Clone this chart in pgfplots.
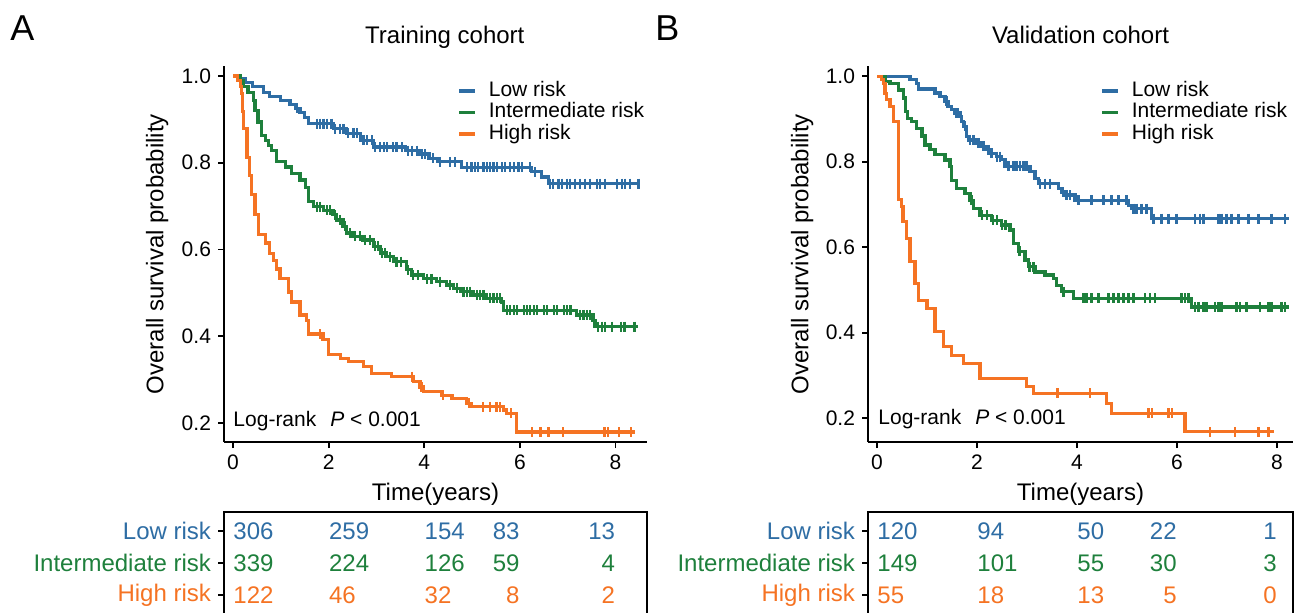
\documentclass[border=0pt]{standalone}
\usepackage{fontspec}
\setmainfont{Liberation Sans}
\usepackage{pgfplots}
\pgfplotsset{compat=1.18}
\definecolor{kmblue}{RGB}{46,109,164}
\definecolor{kmgreen}{RGB}{30,128,60}
\definecolor{kmorange}{RGB}{245,115,35}
\newcommand{\ticksize}{\fontsize{10.5}{12.5}\selectfont}
\newcommand{\labsize}{\fontsize{12}{14}\selectfont}
\newcommand{\tabsize}{\fontsize{12}{14}\selectfont}
\newcommand{\letsize}{\fontsize{18}{21}\selectfont}

\pgfplotsset{
  km/.style={scale only axis, height=188pt,
    axis x line=bottom, axis y line=left,
    axis line style={line width=1.1pt,-},
    tick align=outside, major tick length=3pt,
    tick style={black,line width=0.9pt},
    xtick={0,2,4,6,8}, ytick={0.2,0.4,0.6,0.8,1.0},
    yticklabels={0.2,0.4,0.6,0.8,1.0},
    tick label style={font=\ticksize},
    /pgf/number format/assume math mode=true,
    xlabel={Time(years)}, ylabel={Overall survival probability},
    label style={font=\labsize},
    title style={font=\labsize, anchor=base},
    legend cell align=left,
    legend image code/.code={\draw[##1, line width=1.7pt] (0pt,0pt) -- (8pt,0pt);},
    legend style={draw=none, fill=none, inner sep=0pt, anchor=north west,
      font=\ticksize, row sep=1.25pt,
      nodes={inner sep=0pt, text height=7.5pt, text depth=2pt},
      /tikz/every odd column/.append style={column sep=6pt}},
  },
  kmcurve/.style={const plot, line width=1.6pt, mark=none},
  cens/.style={only marks, mark=|, mark size=2.5pt, mark options={line width=1.1pt}, forget plot},
  risk/.style={scale only axis, height=54.24pt, ymin=0.2, ymax=3.59,
    xtick=\empty, ytick={1,2,3}, ytick pos=left,
    tick align=outside, major tick length=3pt,
    tick style={black,line width=0.9pt},
    axis line style={line width=1.1pt},
    yticklabel style={font=\tabsize},
    yticklabels={{\textcolor{kmorange}{High risk}},{\textcolor{kmgreen}{Intermediate risk}},{\textcolor{kmblue}{Low risk}}},
  },
  rnum/.style={draw=none, mark=none, nodes near coords, point meta=explicit symbolic,
    visualization depends on={value \thisrow{a} \as \anc},
    every node near coord/.append style={anchor=\anc, inner sep=0pt, font=\tabsize, text=#1}},
}

\begin{document}
\begin{tikzpicture}

% ---------------- Panel A ----------------
\begin{axis}[km, at={(112pt,85pt)}, anchor=south west, width=211.5pt,
  xmin=-0.19, xmax=8.66, ymin=0.156, ymax=1.023,
  title={Training cohort}, title style={at={(rel axis cs:0.522,1.028)}},
  xlabel style={at={(rel axis cs:0.5,-0.138)}, anchor=center},
  ylabel style={at={(rel axis cs:-0.158,0.5)}, anchor=center},
  legend style={at={(rel axis cs:0.551,0.960)}}]
\addplot[kmcurve, kmblue] table {
x y
0 1.0
0.10 0.993
0.25 0.985
0.40 0.975
0.63 0.961
0.77 0.953
1.00 0.944
1.19 0.934
1.30 0.925
1.40 0.915
1.50 0.905
1.57 0.890
2.10 0.878
2.38 0.868
2.66 0.852
2.93 0.836
3.60 0.828
3.90 0.820
4.10 0.810
4.27 0.802
4.78 0.789
6.25 0.779
6.45 0.767
6.60 0.752
8.50 0.752
};
\addplot[kmcurve, kmgreen] table {
x y
0 1.0
0.15 0.990
0.22 0.975
0.31 0.961
0.42 0.943
0.46 0.920
0.52 0.894
0.60 0.863
0.67 0.852
0.74 0.840
0.81 0.829
0.91 0.802
1.09 0.790
1.23 0.776
1.40 0.760
1.51 0.742
1.57 0.710
1.68 0.699
1.90 0.690
2.09 0.680
2.17 0.668
2.30 0.653
2.38 0.638
2.51 0.630
2.72 0.622
2.93 0.607
3.08 0.592
3.20 0.583
3.35 0.572
3.63 0.553
3.74 0.541
3.98 0.533
4.26 0.526
4.47 0.518
4.61 0.510
4.75 0.503
5.02 0.495
5.31 0.487
5.62 0.479
5.66 0.460
7.19 0.449
7.53 0.437
7.57 0.422
8.47 0.422
};
\addplot[kmcurve, kmorange] table {
x y
0 1.0
0.10 0.990
0.15 0.975
0.18 0.959
0.20 0.918
0.22 0.878
0.29 0.812
0.34 0.770
0.39 0.727
0.46 0.681
0.53 0.635
0.67 0.615
0.77 0.590
0.84 0.575
0.91 0.555
0.98 0.533
1.16 0.502
1.23 0.479
1.40 0.449
1.54 0.437
1.58 0.405
1.88 0.392
1.99 0.357
2.24 0.349
2.41 0.342
2.73 0.330
2.90 0.314
3.32 0.307
3.77 0.295
3.91 0.283
3.98 0.272
4.37 0.264
4.58 0.257
4.89 0.245
4.99 0.237
5.65 0.230
5.72 0.222
5.93 0.179
8.41 0.179
};
\addplot[cens, kmblue] table {
x y
1.33 0.925
1.75 0.890
1.82 0.890
1.89 0.890
1.96 0.890
2.06 0.890
2.13 0.878
2.24 0.878
2.31 0.878
2.41 0.868
2.52 0.868
2.59 0.868
2.73 0.852
2.80 0.852
2.90 0.852
2.97 0.836
3.08 0.836
3.15 0.836
3.22 0.836
3.35 0.836
3.42 0.836
3.53 0.836
3.66 0.828
3.74 0.828
3.84 0.828
3.95 0.820
4.02 0.820
4.19 0.810
4.33 0.802
4.54 0.802
4.64 0.802
4.89 0.789
4.99 0.789
5.06 0.789
5.13 0.789
5.24 0.789
5.31 0.789
5.38 0.789
5.45 0.789
5.52 0.789
5.62 0.789
5.69 0.789
5.80 0.789
5.87 0.789
5.97 0.789
6.04 0.789
6.21 0.789
6.32 0.779
6.63 0.752
6.70 0.752
6.81 0.752
6.88 0.752
6.98 0.752
7.05 0.752
7.16 0.752
7.26 0.752
7.36 0.752
7.47 0.752
7.61 0.752
7.68 0.752
7.78 0.752
8.03 0.752
8.13 0.752
8.20 0.752
8.31 0.752
8.48 0.752
};
\addplot[cens, kmgreen] table {
x y
1.75 0.699
1.82 0.699
1.96 0.690
2.03 0.690
2.13 0.680
2.24 0.668
2.34 0.653
2.45 0.638
2.55 0.630
2.66 0.630
2.76 0.622
2.87 0.622
2.97 0.607
3.04 0.607
3.11 0.592
3.18 0.592
3.28 0.583
3.42 0.572
3.52 0.572
3.66 0.553
3.77 0.541
3.87 0.541
4.05 0.533
4.15 0.533
4.33 0.526
4.54 0.518
4.68 0.510
4.82 0.503
4.89 0.503
4.96 0.503
5.10 0.495
5.17 0.495
5.24 0.495
5.38 0.487
5.45 0.487
5.52 0.487
5.59 0.487
5.73 0.460
5.80 0.460
5.87 0.460
5.94 0.460
6.08 0.460
6.15 0.460
6.22 0.460
6.29 0.460
6.36 0.460
6.50 0.460
6.57 0.460
6.71 0.460
6.78 0.460
6.92 0.460
6.99 0.460
7.06 0.460
7.26 0.449
7.33 0.449
7.40 0.449
7.47 0.449
7.64 0.422
7.71 0.422
7.78 0.422
7.92 0.422
8.12 0.422
8.19 0.422
8.40 0.422
};
\addplot[cens, kmorange] table {
x y
1.82 0.405
3.74 0.307
3.94 0.283
4.40 0.264
4.93 0.245
5.23 0.237
5.37 0.237
5.51 0.237
5.58 0.237
5.82 0.222
6.26 0.179
6.43 0.179
6.60 0.179
6.90 0.179
7.77 0.179
7.84 0.179
8.08 0.179
8.33 0.179
};
\legend{Low risk, Intermediate risk, High risk}
\node[anchor=west, inner sep=0pt, font=\ticksize] at (axis cs:0,0.205) {Log-rank\hspace{7pt}\textit{P} < 0.001};
\end{axis}

\begin{axis}[risk, at={(112pt,50pt)}, anchor=north west, width=211.5pt,
  xmin=-0.19, xmax=8.66]
\addplot[rnum=kmblue] table[meta=l] {
x y l a
0 3 306 west
2 3 259 west
4 3 154 west
6 3 83 east
8 3 13 east
};
\addplot[rnum=kmgreen] table[meta=l] {
x y l a
0 2 339 west
2 2 224 west
4 2 126 west
6 2 59 east
8 2 4 east
};
\addplot[rnum=kmorange] table[meta=l] {
x y l a
0 1 122 west
2 1 46 west
4 1 32 west
6 1 8 east
8 1 2 east
};
\end{axis}

% ---------------- Panel B ----------------
\begin{axis}[km, at={(434pt,85pt)}, anchor=south west, width=212.5pt,
  xmin=-0.18, xmax=8.32, ymin=0.144, ymax=1.024,
  title={Validation cohort}, title style={at={(rel axis cs:0.5,1.028)}},
  xlabel style={at={(rel axis cs:0.5,-0.138)}, anchor=center},
  ylabel style={at={(rel axis cs:-0.155,0.5)}, anchor=center},
  legend style={at={(rel axis cs:0.546,0.960)}}]
\addplot[kmcurve, kmblue] table {
x y
0 1.0
0.66 0.992
0.79 0.984
0.83 0.970
1.16 0.961
1.26 0.953
1.36 0.941
1.42 0.930
1.49 0.922
1.56 0.914
1.66 0.906
1.69 0.894
1.73 0.883
1.79 0.859
1.83 0.851
1.96 0.844
2.06 0.836
2.16 0.828
2.26 0.820
2.39 0.812
2.49 0.805
2.56 0.789
3.06 0.777
3.16 0.761
3.23 0.749
3.63 0.737
3.69 0.729
3.76 0.722
3.96 0.710
5.03 0.698
5.09 0.690
5.49 0.667
8.23 0.667
};
\addplot[kmcurve, kmgreen] table {
x y
0 1.0
0.16 0.988
0.26 0.984
0.43 0.968
0.53 0.949
0.57 0.918
0.61 0.902
0.69 0.894
0.79 0.878
0.90 0.860
0.96 0.839
1.06 0.828
1.16 0.816
1.36 0.804
1.46 0.789
1.49 0.757
1.59 0.737
1.76 0.726
1.86 0.710
1.93 0.690
2.06 0.675
2.29 0.663
2.49 0.652
2.66 0.640
2.73 0.609
2.83 0.590
2.96 0.570
3.03 0.554
3.16 0.542
3.36 0.535
3.53 0.527
3.59 0.511
3.69 0.496
3.93 0.480
6.29 0.460
8.23 0.460
};
\addplot[kmcurve, kmorange] table {
x y
0 1.0
0.09 0.992
0.13 0.984
0.16 0.960
0.19 0.945
0.26 0.929
0.33 0.894
0.43 0.711
0.49 0.695
0.52 0.660
0.59 0.621
0.66 0.566
0.76 0.515
0.83 0.476
1.00 0.457
1.16 0.402
1.33 0.367
1.49 0.347
1.73 0.328
2.06 0.293
2.99 0.273
3.13 0.258
4.59 0.234
4.69 0.211
6.16 0.168
7.93 0.168
};
\addplot[cens, kmblue] table {
x y
1.39 0.941
1.59 0.914
1.62 0.914
1.76 0.883
1.86 0.851
1.93 0.851
2.03 0.844
2.13 0.836
2.23 0.828
2.29 0.820
2.40 0.812
2.46 0.812
2.63 0.789
2.73 0.789
2.79 0.789
2.86 0.789
2.93 0.789
2.99 0.789
3.26 0.749
3.36 0.749
3.46 0.749
3.72 0.729
3.79 0.722
3.86 0.722
4.03 0.710
4.29 0.710
4.53 0.710
4.69 0.710
4.83 0.710
4.99 0.710
5.13 0.690
5.19 0.690
5.29 0.690
5.39 0.690
5.53 0.667
5.69 0.667
5.83 0.667
5.99 0.667
6.36 0.667
6.46 0.667
6.53 0.667
6.83 0.667
6.89 0.667
6.99 0.667
7.09 0.667
7.23 0.667
7.43 0.667
7.63 0.667
7.89 0.667
8.16 0.667
};
\addplot[cens, kmgreen] table {
x y
1.89 0.710
2.10 0.675
2.20 0.675
2.32 0.663
2.40 0.663
2.50 0.652
2.57 0.652
2.85 0.590
3.05 0.554
3.13 0.554
3.73 0.496
4.13 0.480
4.19 0.480
4.29 0.480
4.43 0.480
4.63 0.480
4.73 0.480
4.83 0.480
4.93 0.480
5.03 0.480
5.13 0.480
5.36 0.480
5.46 0.480
5.56 0.480
6.09 0.480
6.16 0.480
6.23 0.480
6.36 0.460
6.43 0.460
6.53 0.460
6.59 0.460
6.76 0.460
6.83 0.460
6.89 0.460
7.19 0.460
7.26 0.460
7.39 0.460
7.66 0.460
7.83 0.460
7.89 0.460
8.09 0.460
8.16 0.460
};
\addplot[cens, kmorange] table {
x y
3.61 0.258
4.26 0.258
5.43 0.211
5.50 0.211
5.83 0.211
5.90 0.211
6.66 0.168
7.16 0.168
7.63 0.168
7.83 0.168
};
\legend{Low risk, Intermediate risk, High risk}
\node[anchor=west, inner sep=0pt, font=\ticksize] at (axis cs:0.02,0.197) {Log-rank\hspace{7pt}\textit{P} < 0.001};
\end{axis}

\begin{axis}[risk, at={(434pt,50pt)}, anchor=north west, width=212.5pt,
  xmin=-0.18, xmax=8.32]
\addplot[rnum=kmblue] table[meta=l] {
x y l a
0 3 120 west
2 3 94 west
4 3 50 west
6 3 22 east
8 3 1 east
};
\addplot[rnum=kmgreen] table[meta=l] {
x y l a
0 2 149 west
2 2 101 west
4 2 55 west
6 2 30 east
8 2 3 east
};
\addplot[rnum=kmorange] table[meta=l] {
x y l a
0 1 55 west
2 1 18 west
4 1 13 west
6 1 5 east
8 1 0 east
};
\end{axis}

\node[anchor=base west, inner sep=0pt, font=\letsize] at (5pt,285.5pt) {A};
\node[anchor=base west, inner sep=0pt, font=\letsize] at (327.5pt,285.5pt) {B};

\pgfresetboundingbox
\useasboundingbox (0pt,0pt) rectangle (647.5pt,306pt);
\end{tikzpicture}
\end{document}
